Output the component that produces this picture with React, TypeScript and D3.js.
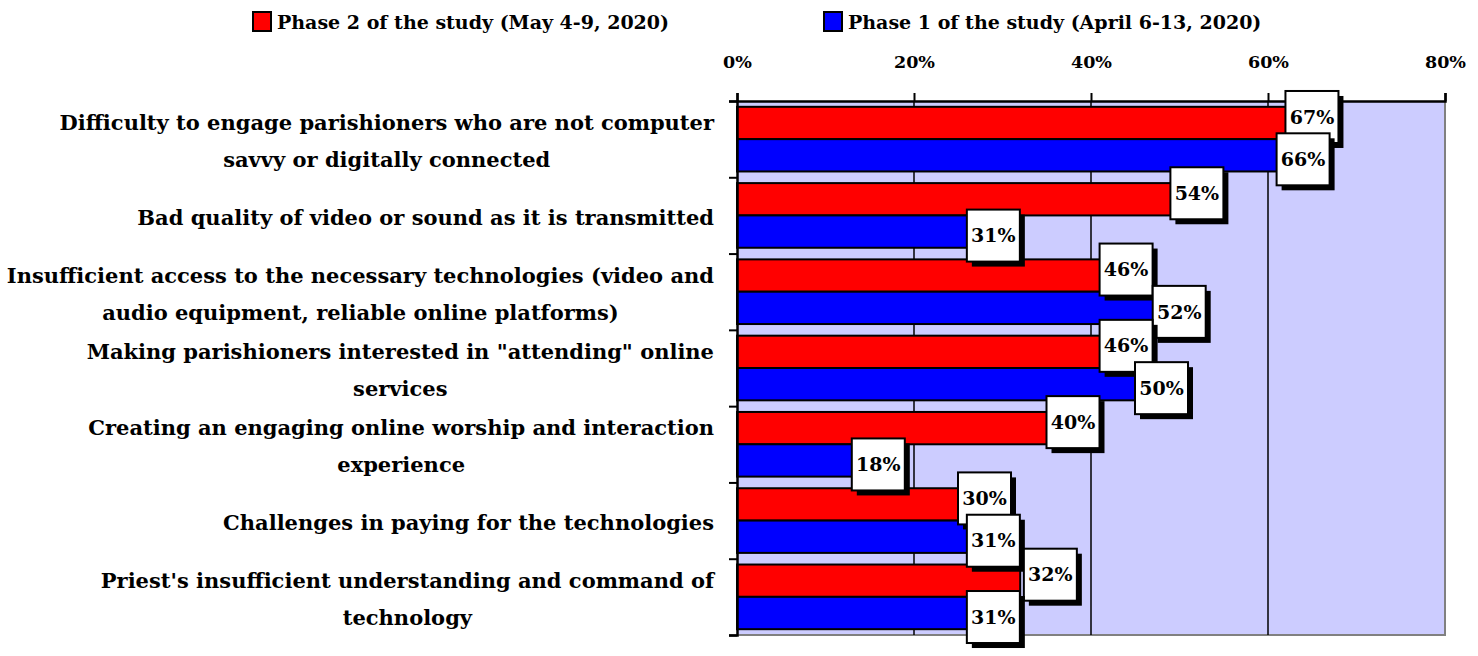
import React, { useEffect, useRef } from 'react';
import * as d3 from 'd3';

// category labels, one array entry per line as in the original
const categories: string[][] = [
  ['Difficulty to engage parishioners who are not computer', 'savvy or digitally connected'],
  ['Bad quality of video or sound as it is transmitted'],
  ['Insufficient access to the necessary technologies (video and', 'audio equipment, reliable online platforms)'],
  ['Making parishioners interested in "attending" online', 'services'],
  ['Creating an engaging online worship and interaction', 'experience'],
  ['Challenges in paying for the technologies'],
  ["Priest's insufficient understanding and command of", 'technology'],
];

const phase2: number[] = [67, 54, 46, 46, 40, 30, 32];
const phase1: number[] = [66, 31, 52, 50, 18, 31, 31];

const seriesNames = ['Phase 2 of the study (May 4-9, 2020)', 'Phase 1 of the study (April 6-13, 2020)'];
const seriesColors = ['#ff0000', '#0000ff'];
const xTicks = [0, 20, 40, 60, 80];

export default function App() {
  const svgRef = useRef<SVGSVGElement>(null);

  useEffect(() => {
    const W = 1478;
    const H = 656;
    const left = 737, right = 1445, top = 101, bottom = 635;
    const font = '"DejaVu Serif", serif';

    const svg = d3.select(svgRef.current);
    svg.selectAll('*').remove();
    svg.attr('width', W).attr('height', H);

    const idx = categories.map((_, i) => String(i));
    const x = d3.scaleLinear().domain([0, 80]).range([left, right]);
    const y = d3.scaleBand().domain(idx).range([top, bottom]);
    const sub = d3.scaleBand().domain(['0', '1']).range([0, y.bandwidth()]).paddingOuter(0.18);

    //plot background
    svg.append('rect')
      .attr('x', left).attr('y', top)
      .attr('width', right - left).attr('height', bottom - top)
      .attr('fill', '#ccccff');
    svg.append('path')
      .attr('d', `M${right},${top}V${bottom}H${left}`)
      .attr('fill', 'none').attr('stroke', '#808080').attr('stroke-width', 2);

    //gridlines
    svg.selectAll('.grid')
      .data(xTicks.slice(1, -1))
      .enter().append('line')
      .attr('x1', d => x(d)).attr('x2', d => x(d))
      .attr('y1', top).attr('y2', bottom)
      .attr('stroke', '#000').attr('stroke-width', 1.5);

    //bars
    const series = [phase2, phase1];
    series.forEach((vals, s) => {
      svg.selectAll(`.bar${s}`)
        .data(vals)
        .enter().append('rect')
        .attr('x', x(0))
        .attr('y', (_, i) => (y(String(i)) as number) + (sub(String(s)) as number))
        .attr('width', d => x(d) - x(0))
        .attr('height', sub.bandwidth())
        .attr('fill', seriesColors[s])
        .attr('stroke', '#000').attr('stroke-width', 2);
    });

    //top axis
    const xAxis = d3.axisTop(x).tickValues(xTicks).tickFormat(d => `${d}%`).tickSize(8).tickPadding(25);
    const gx = svg.append('g').attr('transform', `translate(0,${top})`).call(xAxis);
    gx.select('.domain').attr('stroke-width', 2.5);
    gx.selectAll('.tick line').attr('stroke-width', 2);
    gx.selectAll('text').attr('font-family', font).attr('font-weight', 'bold').attr('font-size', 17.5).attr('fill', '#000');

    //left axis with ticks on category boundaries
    const yl = d3.scaleLinear().domain([0, categories.length]).range([top, bottom]);
    const yAxis = d3.axisLeft(yl).ticks(categories.length).tickFormat(() => '').tickSize(8);
    const gy = svg.append('g').attr('transform', `translate(${left},0)`).call(yAxis);
    gy.select('.domain').attr('stroke-width', 2.5);
    gy.selectAll('.tick line').attr('stroke-width', 2);

    //category labels: centred lines, block right aligned at the axis
    categories.forEach((lines, i) => {
      const cy = (y(String(i)) as number) + y.bandwidth() / 2 + 2;
      const t = svg.append('text')
        .attr('font-family', font).attr('font-weight', 'bold').attr('font-size', 21)
        .attr('text-anchor', 'middle');
      const spans = lines.map((ln, k) =>
        t.append('tspan')
          .attr('y', cy + (k - (lines.length - 1) / 2) * 37)
          .attr('dy', '0.35em')
          .text(ln));
      const wMax = d3.max(spans, sp => (sp.node() as SVGTSPanElement).getComputedTextLength()) || 0;
      spans.forEach(sp => sp.attr('x', 714 - wMax / 2));
    });

    //value labels, nudged right when they would cover a label above
    const bw = 53, bh = 52;
    const boxes: { cx: number; cy: number; v: number }[] = [];
    categories.forEach((_, i) => {
      series.forEach((vals, s) => {
        const v = vals[i];
        let cx = x(v) - 18;
        const cy = (y(String(i)) as number) + (sub(String(s)) as number) + sub.bandwidth() / 2 + (s === 0 ? -6 : 4);
        const prev = boxes[boxes.length - 1];
        if (prev && bh - Math.abs(prev.cy - cy) > 15 && Math.abs(prev.cx - cx) < bw) {
          cx = prev.cx + bw + 4;
        }
        boxes.push({ cx, cy, v });
      });
    });
    boxes.forEach(({ cx, cy, v }) => {
      const g = svg.append('g');
      g.append('rect').attr('x', cx - bw / 2 + 5).attr('y', cy - bh / 2 + 5)
        .attr('width', bw).attr('height', bh).attr('fill', '#000');
      g.append('rect').attr('x', cx - bw / 2).attr('y', cy - bh / 2)
        .attr('width', bw).attr('height', bh).attr('fill', '#fff')
        .attr('stroke', '#000').attr('stroke-width', 2);
      g.append('text').attr('x', cx).attr('y', cy).attr('dy', '0.35em')
        .attr('text-anchor', 'middle')
        .attr('font-family', font).attr('font-weight', 'bold').attr('font-size', 19)
        .text(`${v}%`);
    });

    //legend
    const legendX = [253, 824];
    seriesNames.forEach((name, s) => {
      svg.append('rect').attr('x', legendX[s]).attr('y', 12).attr('width', 18).attr('height', 19)
        .attr('fill', seriesColors[s]).attr('stroke', '#000').attr('stroke-width', 2);
      svg.append('text').attr('x', legendX[s] + 24).attr('y', 22).attr('dy', '0.35em')
        .attr('font-family', font).attr('font-weight', 'bold').attr('font-size', 19)
        .text(name);
    });
  }, []);

  return (
    <div style={{ position: 'absolute', left: 0, top: 0 }}>
      <svg ref={svgRef} style={{ display: 'block' }}></svg>
    </div>
  );
}
